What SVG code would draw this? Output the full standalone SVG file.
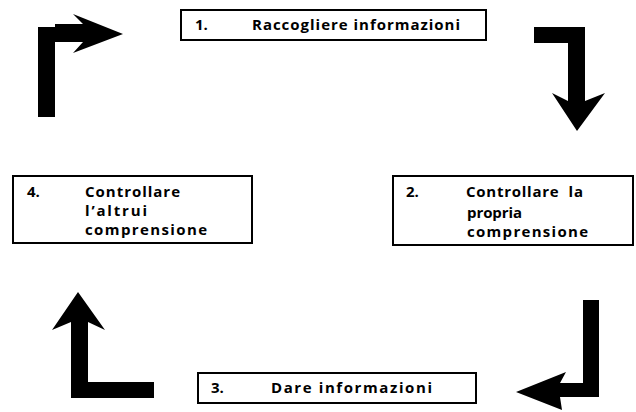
<svg xmlns="http://www.w3.org/2000/svg" width="636" height="412" viewBox="0 0 636 412">
<style>
.box{fill:#fff;stroke:#000;stroke-width:2}
.t{font-family:"Open Sans","Liberation Sans",sans-serif;font-weight:bold;font-size:15px;fill:#000}
.arr{fill:#000;stroke:none}
</style>
<rect width="636" height="412" fill="#fff"/>
<g id="connectors">
<polygon class="arr" points="38,117 38,27 55,27 55,24 83,24 73,14 123,34 73,53 83,42 55,42 55,117"/>
<polygon class="arr" points="534,27 585,27 585,101 605,93 577,131 552,93 568,101 568,43 534,43"/>
<polygon class="arr" points="599,300 599,397 560,397 562,410 516,392 566,372 560,383 583,383 583,300"/>
<polygon class="arr" points="154,382 154,398 71,398 71,322 52,330 78,292 105,330 88,322 88,382"/>
</g>
<g id="node1">
<rect class="box" x="181" y="10" width="305" height="30"/>
<text class="t" x="195" y="30">1.</text>
<text class="t" x="252" y="30" textLength="208">Raccogliere informazioni</text>
</g>
<g id="node2">
<rect class="box" x="393" y="176" width="240" height="69"/>
<text class="t" x="406" y="197">2.</text>
<text class="t" x="466" y="197" xml:space="preserve" textLength="117">Controllare  la</text>
<text class="t" x="467" y="218" textLength="55">propria</text>
<text class="t" x="467" y="237" textLength="121">comprensione</text>
</g>
<g id="node3">
<rect class="box" x="198" y="373" width="278" height="30"/>
<text class="t" x="211" y="393">3.</text>
<text class="t" x="271" y="393" textLength="161">Dare informazioni</text>
</g>
<g id="node4">
<rect class="box" x="13" y="176" width="239" height="67"/>
<text class="t" x="27" y="197">4.</text>
<text class="t" x="85" y="197" textLength="95">Controllare</text>
<text class="t" x="85" y="216" textLength="62">l’altrui</text>
<text class="t" x="85" y="235" textLength="122">comprensione</text>
</g>
</svg>
